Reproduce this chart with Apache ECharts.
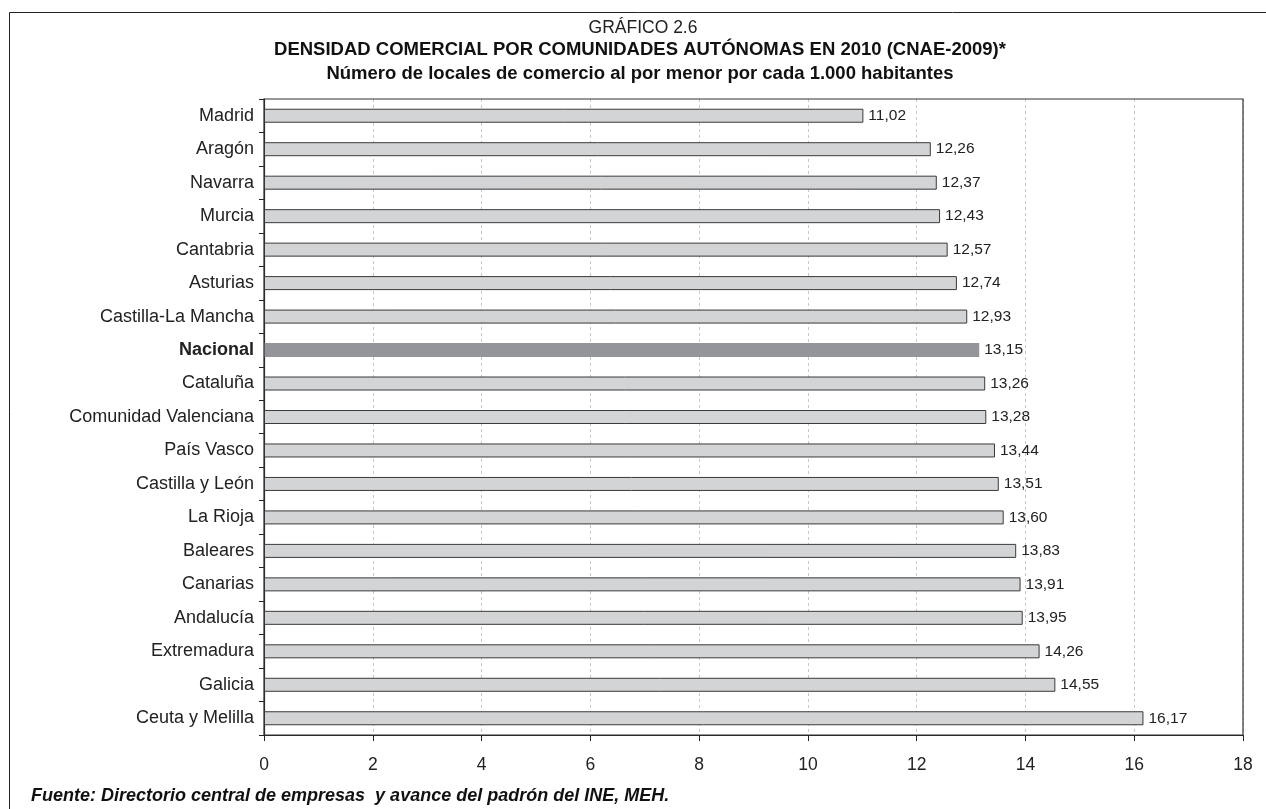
<!DOCTYPE html>
<html><head><meta charset="utf-8">
<script src="https://cdn.jsdelivr.net/npm/echarts@6/dist/echarts.min.js"></script>
<style>html,body{margin:0;padding:0;background:#fff}#c{width:1266px;height:809px}</style>
</head><body><div id="c"></div>
<script>
const categories = ["Madrid","Aragón","Navarra","Murcia","Cantabria","Asturias","Castilla-La Mancha","Nacional","Cataluña","Comunidad Valenciana","País Vasco","Castilla y León","La Rioja","Baleares","Canarias","Andalucía","Extremadura","Galicia","Ceuta y Melilla"];
const values = [11.02,12.26,12.37,12.43,12.57,12.74,12.93,13.15,13.26,13.28,13.44,13.51,13.60,13.83,13.91,13.95,14.26,14.55,16.17];
const highlight = "Nacional";
const xTicks = [0,2,4,6,8,10,12,14,16,18];
const titleLines = ["GRÁFICO 2.6","DENSIDAD COMERCIAL POR COMUNIDADES AUTÓNOMAS EN 2010 (CNAE-2009)*","Número de locales de comercio al por menor por cada 1.000 habitantes"];
const sourceNote = "Fuente: Directorio central de empresas  y avance del padrón del INE, MEH.";

const F = "Liberation Sans, Arial, Helvetica, sans-serif";
const chart = echarts.init(document.getElementById('c'));
chart.setOption({
  animation:false,
  backgroundColor:'#fff',
  graphic:[
    {type:'rect',shape:{x:9.5,y:12.5,width:1300,height:900},style:{fill:'none',stroke:'#222',lineWidth:1},silent:true,z:-1},
    {type:'rect',shape:{x:264,y:99,width:979,height:636},style:{fill:'none',stroke:'#333',lineWidth:1.2},silent:true,z:10},
    {type:'text',x:643,y:28,style:{text:titleLines[0],textAlign:'center',textVerticalAlign:'middle',font:'normal 17.5px '+F,fill:'#222'}},
    {type:'text',x:640,y:50,style:{text:titleLines[1],textAlign:'center',textVerticalAlign:'middle',font:'bold 18.5px '+F,fill:'#111'}},
    {type:'text',x:640,y:74,style:{text:titleLines[2],textAlign:'center',textVerticalAlign:'middle',font:'bold 18.5px '+F,fill:'#111'}},
    {type:'text',x:31,y:796,style:{text:sourceNote,textAlign:'left',textVerticalAlign:'middle',font:'italic bold 18px '+F,fill:'#111'}}
  ],
  grid:{left:264,right:23,top:99,bottom:74,containLabel:false},
  xAxis:{
    type:'value',min:0,max:18,interval:2,
    axisLine:{show:true,lineStyle:{color:'#222',width:1.2}},
    axisTick:{show:true,length:6,lineStyle:{color:'#222'}},
    axisLabel:{margin:21,fontFamily:F,fontSize:17.5,color:'#222',formatter:v=>xTicks.includes(v)?String(v):''},
    splitLine:{show:true,lineStyle:{color:'#c8c8c8',type:[3,3],width:1}}
  },
  yAxis:{
    type:'category',inverse:true,data:categories,
    axisLine:{show:true,lineStyle:{color:'#222',width:1.2}},
    axisTick:{show:true,length:5,lineStyle:{color:'#222'}},
    axisLabel:{margin:10,fontFamily:F,fontSize:18,color:'#222',
      formatter:v=>v===highlight?'{b|'+v+'}':v,
      rich:{b:{fontWeight:'bold',fontFamily:F,fontSize:18,color:'#222'}}}
  },
  series:[{
    type:'bar',barWidth:14,
    data:values.map((v,i)=>categories[i]===highlight
      ?{value:v,itemStyle:{color:'#939598',borderWidth:0}}
      :{value:v,itemStyle:{color:'#d3d4d6',borderColor:'#3a3a3a',borderWidth:1}}),
    label:{show:true,position:'right',distance:5,fontFamily:F,fontSize:15.5,color:'#222',
      formatter:p=>p.value.toFixed(2).replace('.',',')}
  }]
});
</script></body></html>
